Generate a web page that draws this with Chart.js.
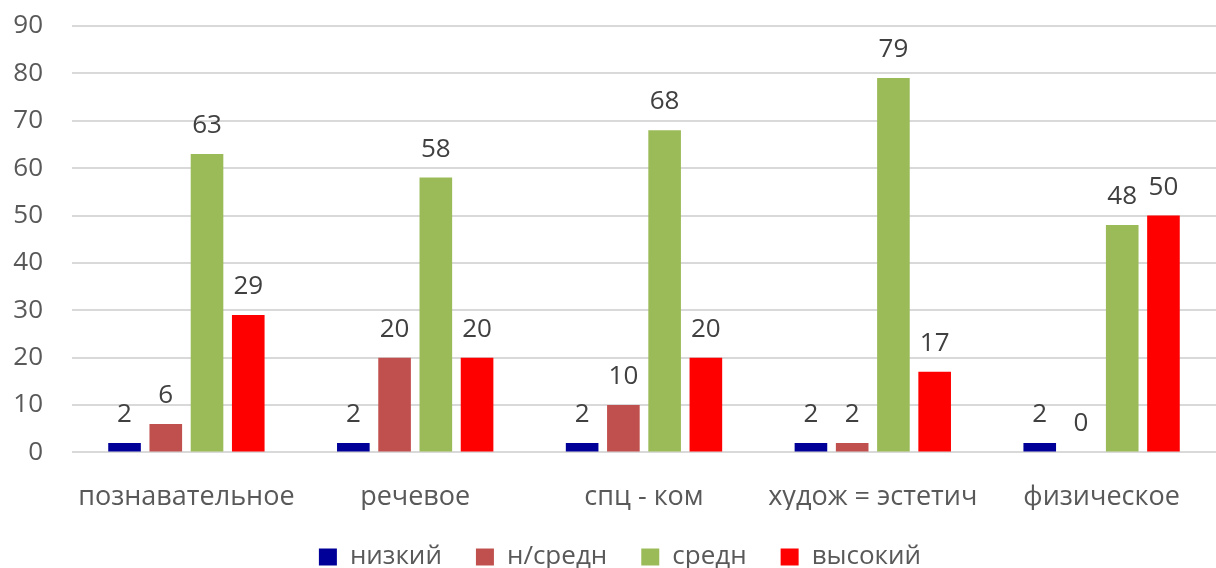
<!DOCTYPE html>
<html>
<head>
<meta charset="utf-8">
<script src="https://cdn.jsdelivr.net/npm/chart.js@4"></script>
<style>
  html, body { margin: 0; padding: 0; background: #fff; }
  #wrap { width: 1216px; height: 568px; overflow: hidden; }
</style>
</head>
<body>
<div id="wrap"><canvas id="Chart1" width="1216" height="568"></canvas></div>
<script>
const categories = ['познавательное', 'речевое', 'спц - ком', 'худож = эстетич', 'физическое'];
const low = [2, 2, 2, 2, 2];
const belowMid = [6, 20, 10, 2, 0];
const mid = [63, 58, 68, 79, 48];
const high = [29, 20, 20, 17, 50];
const y_ticks = [0, 10, 20, 30, 40, 50, 60, 70, 80, 90];

const font_family = '"Open Sans", "Noto Sans", sans-serif';

// values above the bars
const bar_labels = {
    id: 'bar_labels',
    afterDatasetsDraw(chart) {
        let ctx = chart.ctx;
        ctx.save();
        ctx.font = '26px ' + font_family;
        ctx.fillStyle = '#404040';
        ctx.textAlign = 'center';
        ctx.textBaseline = 'alphabetic';
        chart.data.datasets.forEach((ds, i) => {
            let meta = chart.getDatasetMeta(i);
            meta.data.forEach((bar, j) => {
                ctx.fillText(String(ds.data[j]), bar.x, bar.y - 21);
            });
        });
        ctx.restore();
    }
};

let data = {
    labels: categories,
    datasets: [
        { label: 'низкий', data: low, backgroundColor: '#000099' },
        { label: 'н/средн', data: belowMid, backgroundColor: '#C0504D' },
        { label: 'средн', data: mid, backgroundColor: '#9BBB59' },
        { label: 'высокий', data: high, backgroundColor: '#FF0000' }
    ]
};

let config = {
    type: 'bar',
    data: data,
    options: {
        responsive: false,
        animation: false,
        devicePixelRatio: 1,
        categoryPercentage: 0.721,
        barPercentage: 0.791,
        layout: { padding: { left: 12, right: -12, top: 0, bottom: -12 } },
        plugins: {
            tooltip: { enabled: false },
            legend: {
                position: 'bottom',
                labels: {
                    boxWidth: 18,
                    boxHeight: 17,
                    padding: 34,
                    color: '#595959',
                    font: { size: 26, family: font_family }
                }
            }
        },
        scales: {
            x: {
                grid: { display: false },
                border: { display: false },
                afterFit: (axis) => { axis.height = 57.6; },
                ticks: {
                    color: '#595959',
                    padding: 21,
                    font: { size: 27, family: font_family }
                }
            },
            y: {
                min: 0,
                max: 90,
                afterBuildTicks: (axis) => { axis.ticks = y_ticks.map(v => ({ value: v })); },
                afterFit: (axis) => {
                    axis.width = 60;
                    axis.paddingTop = 26;
                    axis.paddingBottom = 16;
                },
                grid: { color: '#D9D9D9', lineWidth: 2, drawTicks: false },
                border: { display: false },
                ticks: {
                    color: '#595959',
                    padding: 29,
                    font: { size: 26, family: font_family }
                }
            }
        }
    },
    plugins: [bar_labels]
};

new Chart(document.getElementById('Chart1'), config);
</script>
</body>
</html>
